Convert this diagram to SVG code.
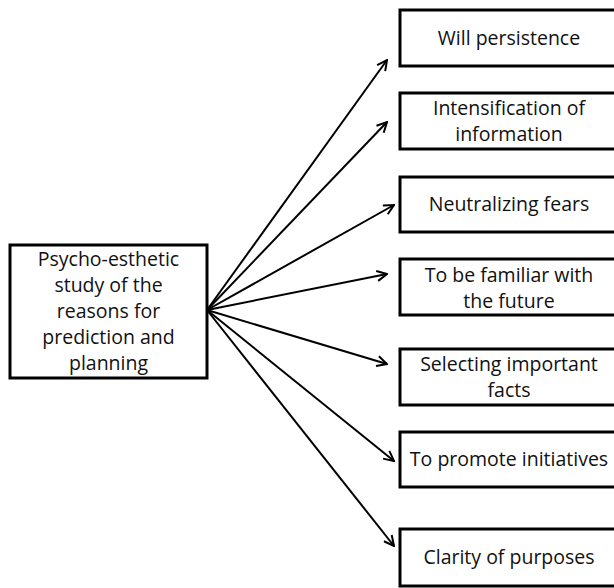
<svg xmlns="http://www.w3.org/2000/svg" width="614" height="588" viewBox="0 0 614 588">
<defs>
<style>
.box{fill:#fff;stroke:#000;stroke-width:3}
.t{font-family:"Open Sans","Liberation Sans",sans-serif;font-size:19.5px;fill:#111;text-anchor:middle}
.c{stroke:#000;stroke-width:2;fill:none;marker-end:url(#ah)}
</style>
<marker id="ah" viewBox="0 0 12 12" refX="11" refY="6" markerWidth="12" markerHeight="12" markerUnits="userSpaceOnUse" orient="auto">
<path d="M1,1 L11,6 L1,11" fill="none" stroke="#000" stroke-width="2"/>
</marker>
</defs>
<rect width="614" height="588" fill="#fff"/>
<g id="connectors">
<line class="c" x1="207" y1="310" x2="387" y2="60"/>
<line class="c" x1="207" y1="310" x2="387" y2="122"/>
<line class="c" x1="207" y1="310" x2="394" y2="205"/>
<line class="c" x1="207" y1="310" x2="387" y2="274"/>
<line class="c" x1="207" y1="310" x2="387" y2="364"/>
<line class="c" x1="207" y1="310" x2="394" y2="461"/>
<line class="c" x1="207" y1="310" x2="394" y2="546"/>
</g>
<g id="source">
<rect class="box" x="10" y="245" width="197" height="133"/>
<text class="t" x="108.5" y="266">Psycho-esthetic</text>
<text class="t" x="108.5" y="292">study of the</text>
<text class="t" x="108.5" y="318">reasons for</text>
<text class="t" x="108.5" y="344">prediction and</text>
<text class="t" x="108.5" y="370">planning</text>
</g>
<g id="n1">
<rect class="box" x="400" y="10" width="218" height="56"/>
<text class="t" x="509" y="45">Will persistence</text>
</g>
<g id="n2">
<rect class="box" x="400" y="93" width="218" height="56"/>
<text class="t" x="509" y="115">Intensification of</text>
<text class="t" x="509" y="141">information</text>
</g>
<g id="n3">
<rect class="box" x="400" y="177" width="218" height="55"/>
<text class="t" x="509" y="211">Neutralizing fears</text>
</g>
<g id="n4">
<rect class="box" x="400" y="259" width="218" height="56"/>
<text class="t" x="509" y="282">To be familiar with</text>
<text class="t" x="509" y="308">the future</text>
</g>
<g id="n5">
<rect class="box" x="400" y="349" width="218" height="56"/>
<text class="t" x="509" y="371">Selecting important</text>
<text class="t" x="509" y="397">facts</text>
</g>
<g id="n6">
<rect class="box" x="400" y="432" width="218" height="55"/>
<text class="t" x="509" y="466">To promote initiatives</text>
</g>
<g id="n7">
<rect class="box" x="400" y="529" width="218" height="57"/>
<text class="t" x="509" y="564">Clarity of purposes</text>
</g>
</svg>
